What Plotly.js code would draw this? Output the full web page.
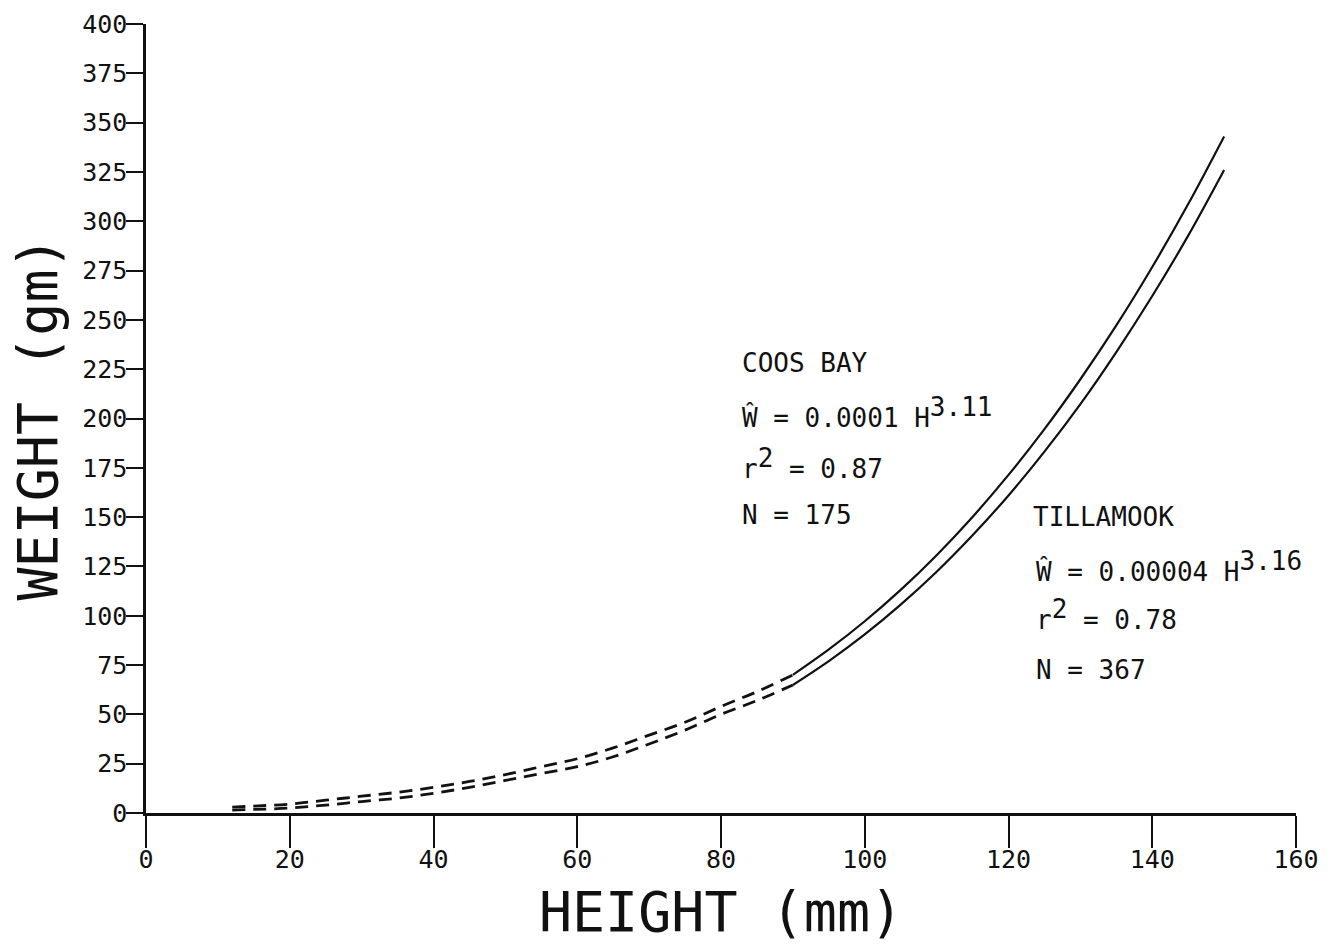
<!DOCTYPE html>
<html>
<head>
<meta charset="utf-8">
<script src="https://cdn.plot.ly/plotly-3.0.1.min.js"></script>
<style>
  html, body { margin: 0; padding: 0; background: #ffffff; }
  #chart { width: 1331px; height: 945px; }
</style>
</head>
<body>
<div id="chart"></div>
<script>
// Height (mm) sampled along the extrapolated (dashed) part of the curves
const heightDashed = [12, 15, 20, 25, 30, 35, 40, 45, 50, 55, 60, 65, 70, 75, 80, 85, 90];
// Coos Bay weight (gm), dashed part
const coosDashed = [3, 3.5, 4.5, 6.5, 8.5, 10.5, 13, 16, 19.5, 23.5, 27.5, 33, 39.5, 46, 54, 61.5, 70];
// Tillamook weight (gm), dashed part
const tillDashed = [1.5, 1.8, 2.5, 4, 5.8, 7.5, 10, 13, 16.5, 20, 23.5, 28.5, 35, 42, 50, 57, 64.9];

// Height (mm) along the fitted (solid) part of the curves
const heightSolid = [90, 95, 100, 105, 110, 115, 120, 125, 130, 135, 140, 145, 150];
// Coos Bay weight (gm), solid part
const coosSolid = [70, 82.9, 97.2, 113.1, 130.7, 150.1, 171.4, 194.6, 219.9, 247.2, 276.8, 308.7, 343];
// Tillamook weight (gm), solid part
const tillSolid = [64.9, 77, 90.5, 105.6, 122.3, 140.8, 161, 183.2, 207.3, 233.7, 262.1, 292.7, 326];

// Axis ticks
const xTicks = [0, 20, 40, 60, 80, 100, 120, 140, 160];
const yTicks = [0, 25, 50, 75, 100, 125, 150, 175, 200, 225, 250, 275, 300, 325, 350, 375, 400];

// Annotation text blocks
const SUP = (s) => '<sup><span style="font-size:26px">' + s + '</span></sup>';
const coosLabel = ["COOS BAY", "Ŵ = 0.0001 H" + SUP("3.11"), "r" + SUP("2") + " = 0.87", "N = 175"];
const tillLabel = ["TILLAMOOK", "Ŵ = 0.00004 H" + SUP("3.16"), "r" + SUP("2") + " = 0.78", "N = 367"];
const coosLabelPos = { x: 82.7, y: [228, 203, 177, 151] };
const tillLabelPos = { x: [123.1, 123.5, 123.5, 123.5], y: [150, 125, 100.5, 72.5] };

const MONO = "DejaVu Sans Mono, monospace";

const dashedLine = { color: "#111111", width: 2.8, dash: "13px,8px" };
const solidLine = { color: "#111111", width: 2.2 };

const traces = [
  { x: heightDashed, y: coosDashed, mode: "lines", name: "Coos Bay (extrapolated)", line: Object.assign({ shape: "spline" }, dashedLine), hoverinfo: "x+y" },
  { x: heightDashed, y: tillDashed, mode: "lines", name: "Tillamook (extrapolated)", line: Object.assign({ shape: "spline" }, dashedLine), hoverinfo: "x+y" },
  { x: heightSolid, y: coosSolid, mode: "lines", name: "Coos Bay", line: Object.assign({ shape: "spline" }, solidLine), hoverinfo: "x+y" },
  { x: heightSolid, y: tillSolid, mode: "lines", name: "Tillamook", line: Object.assign({ shape: "spline" }, solidLine), hoverinfo: "x+y" }
];

const annotations = [];
coosLabel.forEach((t, i) => {
  annotations.push({
    x: coosLabelPos.x, y: coosLabelPos.y[i], xref: "x", yref: "y",
    text: t, showarrow: false, xanchor: "left", yanchor: "middle",
    font: { family: MONO, size: 26, color: "#111111" }
  });
});
tillLabel.forEach((t, i) => {
  annotations.push({
    x: tillLabelPos.x[i], y: tillLabelPos.y[i], xref: "x", yref: "y",
    text: t, showarrow: false, xanchor: "left", yanchor: "middle",
    font: { family: MONO, size: 26, color: "#111111" }
  });
});

const layout = {
  width: 1331,
  height: 945,
  margin: { l: 146, r: 35, t: 24, b: 132, pad: 0 },
  paper_bgcolor: "#ffffff",
  plot_bgcolor: "#ffffff",
  showlegend: false,
  font: { family: MONO, color: "#111111" },
  xaxis: {
    range: [0, 160],
    tickmode: "array",
    tickvals: xTicks,
    ticktext: xTicks.map(String),
    ticks: "outside",
    ticklen: 32,
    tickwidth: 2,
    tickcolor: "#111111",
    ticklabelstandoff: -10,
    showline: true,
    linewidth: 2.6,
    linecolor: "#111111",
    showgrid: false,
    zeroline: false,
    tickfont: { family: MONO, size: 25, color: "#111111" },
    title: { text: "HEIGHT (mm)", font: { family: MONO, size: 55, color: "#111111" }, standoff: 20 }
  },
  yaxis: {
    range: [0, 400],
    tickmode: "array",
    tickvals: yTicks,
    ticktext: yTicks.map(String),
    ticks: "outside",
    ticklen: 17,
    tickwidth: 2,
    tickcolor: "#111111",
    ticklabelstandoff: -6,
    showline: true,
    linewidth: 2.6,
    linecolor: "#111111",
    showgrid: false,
    zeroline: false,
    tickfont: { family: MONO, size: 25, color: "#111111" },
    title: { text: "WEIGHT (gm)", font: { family: MONO, size: 55, color: "#111111" }, standoff: 7 }
  },
  annotations: annotations
};

Plotly.newPlot("chart", traces, layout, { displayModeBar: false, staticPlot: true });
</script>
</body>
</html>
